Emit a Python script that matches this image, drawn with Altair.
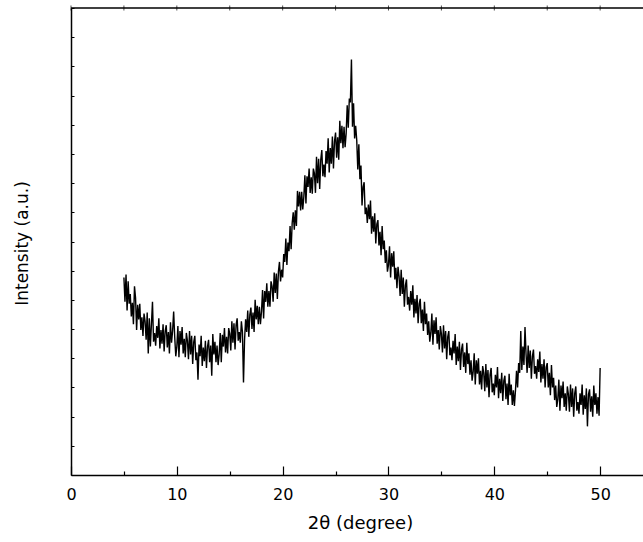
import altair as alt
import pandas as pd

# XRD scan: 2-theta from 5.0 to 50.0 deg, step 0.1 deg
SCAN_START = 5.0
SCAN_STEP = 0.1

# intensity (a.u.), one row per degree (x.0 ... x.9)
I_05_09 = [
    203, 178, 206, 169, 199, 176, 186, 163, 177, 155,
    194, 182, 149, 175, 160, 176, 149, 162, 143, 166,
    158, 139, 167, 125, 161, 132, 155, 178, 137, 146,
    133, 153, 141, 161, 130, 149, 135, 155, 127, 148,
    154, 131, 147, 125, 157, 136, 148, 168, 142, 122,
]
I_10_14 = [
    132, 153, 121, 148, 134, 152, 125, 140, 121, 146,
    138, 119, 148, 124, 143, 114, 137, 143, 118, 126,
    98, 134, 122, 143, 112, 131, 117, 138, 110, 132,
    139, 116, 133, 102, 145, 124, 137, 116, 133, 113,
    124, 146, 116, 144, 132, 151, 126, 142, 125, 151,
]
I_15_19 = [
    145, 128, 158, 136, 156, 129, 154, 161, 138, 147,
    136, 158, 147, 95, 139, 160, 147, 169, 142, 165,
    172, 150, 167, 147, 180, 160, 174, 155, 173, 155,
    168, 190, 161, 189, 178, 197, 173, 189, 173, 199,
    194, 178, 208, 187, 207, 181, 209, 219, 199, 211,
]
I_20_24 = [
    203, 227, 219, 243, 216, 239, 230, 256, 232, 259,
    270, 252, 272, 256, 292, 276, 291, 272, 291, 273,
    286, 308, 279, 307, 296, 315, 290, 306, 289, 315,
    310, 290, 327, 300, 325, 294, 324, 334, 307, 319,
    306, 333, 320, 346, 311, 336, 320, 348, 315, 343,
]
I_25_29 = [
    352, 326, 347, 324, 364, 341, 359, 336, 358, 337,
    351, 380, 357, 387, 383, 427, 358, 382, 346, 359,
    344, 314, 340, 304, 318, 277, 296, 301, 268, 275,
    259, 278, 263, 282, 248, 266, 250, 269, 238, 258,
    262, 236, 250, 226, 256, 232, 241, 218, 231, 209,
]
I_30_34 = [
    216, 235, 203, 228, 214, 230, 201, 213, 192, 214,
    204, 184, 211, 186, 203, 173, 195, 201, 175, 183,
    169, 189, 175, 195, 162, 181, 166, 185, 156, 176,
    181, 156, 170, 148, 178, 155, 166, 144, 158, 137,
    146, 166, 134, 159, 145, 162, 135, 149, 129, 153,
]
I_35_39 = [
    145, 126, 154, 130, 148, 119, 142, 148, 123, 131,
    118, 138, 125, 145, 113, 132, 117, 137, 108, 129,
    135, 111, 126, 105, 136, 114, 125, 103, 118, 97,
    106, 125, 93, 118, 104, 120, 93, 107, 88, 112,
    105, 86, 114, 90, 108, 80, 103, 110, 85, 94,
]
I_40_44 = [
    82, 103, 90, 111, 79, 99, 84, 105, 76, 97,
    102, 78, 94, 72, 104, 82, 93, 72, 87, 71,
    87, 107, 90, 115, 105, 148, 108, 132, 113, 152,
    124, 105, 133, 110, 128, 99, 122, 129, 104, 112,
    99, 119, 106, 127, 95, 114, 99, 119, 90, 111,
]
I_45_50 = [
    115, 90, 105, 82, 113, 90, 100, 77, 92, 70,
    78, 98, 66, 92, 79, 96, 70, 84, 66, 91,
    83, 65, 93, 70, 89, 60, 84, 91, 66, 75,
    63, 84, 72, 93, 62, 82, 68, 89, 50, 83,
    88, 65, 81, 60, 92, 72, 84, 63, 80, 61,
    110,
]

X_TICKS = [0, 5, 10, 15, 20, 25, 30, 35, 40, 45, 50]
Y_TICKS = [0, 30, 60, 90, 120, 150, 180, 210, 240, 270, 300, 330, 360, 390, 420, 450, 480]
X_DOMAIN = [0, 54.05]
Y_DOMAIN = [0, 480]

intensity = I_05_09 + I_10_14 + I_15_19 + I_20_24 + I_25_29 + I_30_34 + I_35_39 + I_40_44 + I_45_50
two_theta = [round(SCAN_START + SCAN_STEP * i, 2) for i in range(len(intensity))]
df = pd.DataFrame({"two_theta": two_theta, "intensity": intensity})

frame_df = pd.DataFrame({"x": [X_DOMAIN[0]], "x2": [X_DOMAIN[1]], "y": [Y_DOMAIN[1]]})
top_tick_df = pd.DataFrame({"x": X_TICKS, "y": [Y_DOMAIN[1]] * len(X_TICKS)})

FONT = "DejaVu Sans"

x_scale = alt.Scale(domain=X_DOMAIN, nice=False, zero=False)
y_scale = alt.Scale(domain=Y_DOMAIN, nice=False, zero=False)

bottom_axis = alt.Axis(
    orient="bottom",
    values=X_TICKS,
    grid=False,
    domainColor="black",
    domainWidth=1.5,
    tickColor="black",
    tickWidth=1.2,
    tickSize={"condition": {"test": "datum.value % 10 === 0", "value": -9}, "value": -4},
    labelExpr="datum.value % 10 === 0 ? datum.label : ''",
    labelFlush=False,
    labelOverlap=False,
    labelFont=FONT,
    labelFontSize=16,
    labelColor="black",
    labelBaseline="alphabetic",
    labelPadding=33,
    titleFont=FONT,
    titleFontSize=18,
    titleFontWeight="normal",
    titleColor="black",
    titleX=289,
    titleY=53,
    titleAlign="center",
    titleBaseline="alphabetic",
)

left_axis = alt.Axis(
    orient="left",
    values=Y_TICKS,
    grid=False,
    labels=False,
    domainColor="black",
    domainWidth=1.5,
    tickColor="black",
    tickWidth=1,
    tickSize={"expr": "-3"},
    titleFont=FONT,
    titleFontSize=17,
    titleFontWeight="normal",
    titleColor="black",
    titleX=-44,
    titleY=235,
    titleAngle=270,
    titleAlign="center",
    titleBaseline="alphabetic",
)

line = alt.Chart(df).mark_line(color="black", strokeWidth=1.4).encode(
    x=alt.X("two_theta:Q", scale=x_scale, axis=bottom_axis, title="2θ (degree)"),
    y=alt.Y("intensity:Q", scale=y_scale, axis=left_axis, title="Intensity (a.u.)"),
)

frame_top = alt.Chart(frame_df).mark_rule(color="black", strokeWidth=1.5).encode(
    x=alt.X("x:Q", scale=x_scale, axis=None),
    x2="x2:Q",
    y=alt.Y("y:Q", scale=y_scale, axis=None),
)

top_ticks = alt.Chart(top_tick_df).mark_tick(
    color="black", orient="vertical", size=5, thickness=1
).encode(
    x=alt.X("x:Q", scale=x_scale, axis=None),
    y=alt.Y("y:Q", scale=y_scale, axis=None),
)

chart = (
    alt.layer(line, frame_top, top_ticks)
    .resolve_axis(x="independent", y="independent")
    .properties(
        width=572,
        height=467,
        autosize=alt.AutoSizeParams(type="none"),
        padding={"left": 71, "top": 8, "right": 0, "bottom": 67},
        background="white",
    )
    .configure_view(strokeOpacity=0)
)

chart.save("out.html", embed_options={"renderer": "svg", "actions": False})
